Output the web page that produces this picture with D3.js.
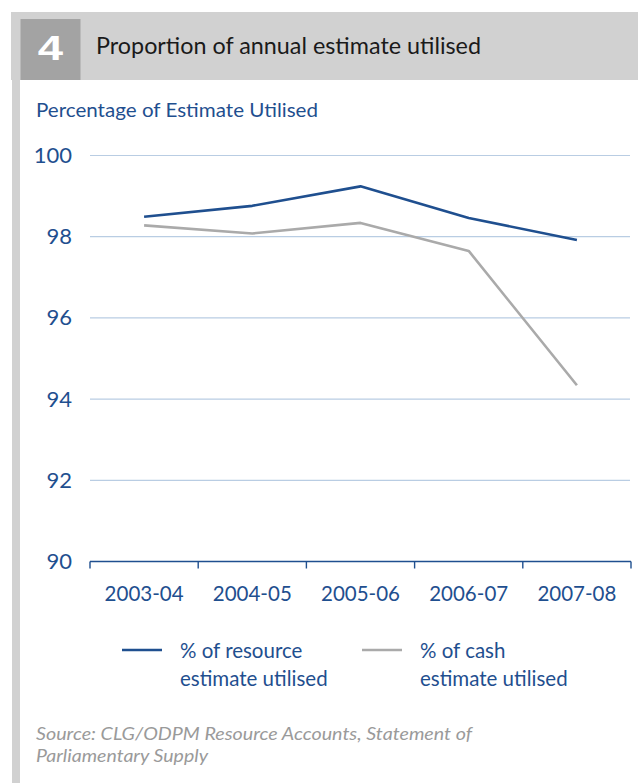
<!DOCTYPE html>
<html>
<head>
<meta charset="utf-8">
<script src="https://cdn.jsdelivr.net/npm/d3@7"></script>
<style>
  html, body { margin: 0; padding: 0; background: #ffffff; }
  svg { display: block; font-family: Lato, "Open Sans", sans-serif; }
</style>
</head>
<body>
<svg id="chart" width="638" height="783"></svg>
<script>
// Financial years on the x axis
const years = ["2003-04", "2004-05", "2005-06", "2006-07", "2007-08"];
// % of resource estimate utilised
const resourceUtilised = [98.49, 98.76, 99.24, 98.46, 97.92];
// % of cash estimate utilised
const cashUtilised = [98.28, 98.08, 98.34, 97.65, 94.34];
// Y axis ticks
const yTicks = [90, 92, 94, 96, 98, 100];

const seriesList = [
  { name: ["% of resource", "estimate utilised"], values: resourceUtilised, color: "#1f4f8f" },
  { name: ["% of cash", "estimate utilised"], values: cashUtilised, color: "#aaaaaa" }
];

const blue = "#1f4f8f";
const grid = "#b9cde3";
const svg = d3.select("#chart");

// Header band with the figure number
svg.append("rect").attr("x", 11).attr("y", 12).attr("width", 627).attr("height", 68).attr("fill", "#d1d1d1");
svg.append("rect").attr("x", 20.5).attr("y", 19).attr("width", 60).attr("height", 61).attr("fill", "#a3a3a3");
svg.append("text").attr("transform", "translate(50.5,59.5) scale(1.3,1)")
  .attr("text-anchor", "middle")
  .attr("fill", "#ffffff").attr("font-size", 35).attr("font-weight", 700)
  .attr("font-family", "'Liberation Sans', Arial, sans-serif")
  .text("4");
svg.append("text").attr("x", 96).attr("y", 54).attr("fill", "#1a1a1a")
  .attr("font-size", 23).attr("textLength", 385).attr("lengthAdjust", "spacingAndGlyphs")
  .text("Proportion of annual estimate utilised");

// Left frame strip
svg.append("rect").attr("x", 12).attr("y", 80).attr("width", 8).attr("height", 703).attr("fill", "#d1d1d1");

// Y axis title
svg.append("text").attr("x", 36).attr("y", 117).attr("fill", blue)
  .attr("font-size", 20).attr("textLength", 282).attr("lengthAdjust", "spacingAndGlyphs")
  .text("Percentage of Estimate Utilised");

const plotLeft = 90, plotRight = 631, plotTop = 155.5, plotBottom = 561.5;

const x = d3.scaleBand().domain(years).range([plotLeft, plotRight]);
const y = d3.scaleLinear().domain([90, 100]).range([plotBottom, plotTop]);

// Horizontal gridlines
svg.append("g").selectAll("line").data(yTicks.filter(t => t > 90)).join("line")
  .attr("x1", plotLeft).attr("x2", plotRight - 1)
  .attr("y1", d => y(d)).attr("y2", d => y(d))
  .attr("stroke", grid).attr("stroke-width", 1.2);

// Y tick labels
const yAxis = svg.append("g").attr("transform", `translate(${plotLeft},0)`)
  .call(d3.axisLeft(y).tickValues(yTicks).tickSize(0).tickPadding(18).tickFormat(d3.format("d")));
yAxis.select(".domain").remove();
yAxis.selectAll("text").attr("fill", blue).attr("font-size", 22).attr("font-family", "Lato, sans-serif");

// X axis with ticks on category boundaries
const xAxisG = svg.append("g").attr("transform", `translate(0,${plotBottom})`);
xAxisG.append("line").attr("x1", plotLeft).attr("x2", plotRight).attr("y1", 0).attr("y2", 0)
  .attr("stroke", blue).attr("stroke-width", 1.6);
const bounds = years.map(d => x(d)).concat([x(years[years.length - 1]) + x.bandwidth()]);
xAxisG.selectAll("line.tick").data(bounds).join("line").attr("class", "tick")
  .attr("x1", d => d).attr("x2", d => d).attr("y1", 0).attr("y2", 7)
  .attr("stroke", blue).attr("stroke-width", 1.4);
xAxisG.selectAll("text").data(years).join("text")
  .attr("x", d => x(d) + x.bandwidth() / 2).attr("y", 39)
  .attr("text-anchor", "middle").attr("fill", blue).attr("font-size", 20.5)
  .text(d => d);

// Series lines
const line = d3.line()
  .x((d, i) => x(years[i]) + x.bandwidth() / 2)
  .y(d => y(d));

svg.append("g").selectAll("path").data(seriesList.slice().reverse()).join("path")
  .attr("d", d => line(d.values))
  .attr("fill", "none").attr("stroke", d => d.color).attr("stroke-width", 2.6)
  .attr("stroke-linejoin", "round");

// Legend
const legendX = [122, 362];
const legend = svg.append("g").selectAll("g").data(seriesList).join("g")
  .attr("transform", (d, i) => `translate(${legendX[i]},650)`);
legend.append("line").attr("x1", 0).attr("x2", 40).attr("y1", 0).attr("y2", 0)
  .attr("stroke", d => d.color).attr("stroke-width", 2.6);
legend.append("text").attr("x", 58).attr("y", 8).attr("fill", blue).attr("font-size", 20.5)
  .text(d => d.name[0]);
legend.append("text").attr("x", 58).attr("y", 36).attr("fill", blue).attr("font-size", 20.5)
  .text(d => d.name[1]);

// Source note
const source = svg.append("g").attr("fill", "#9a9a9a").attr("font-size", 18).attr("font-style", "italic");
source.append("text").attr("x", 36).attr("y", 740)
  .attr("textLength", 436).attr("lengthAdjust", "spacingAndGlyphs")
  .text("Source: CLG/ODPM Resource Accounts, Statement of");
source.append("text").attr("x", 36).attr("y", 762)
  .attr("textLength", 172).attr("lengthAdjust", "spacingAndGlyphs")
  .text("Parliamentary Supply");
</script>
</body>
</html>
